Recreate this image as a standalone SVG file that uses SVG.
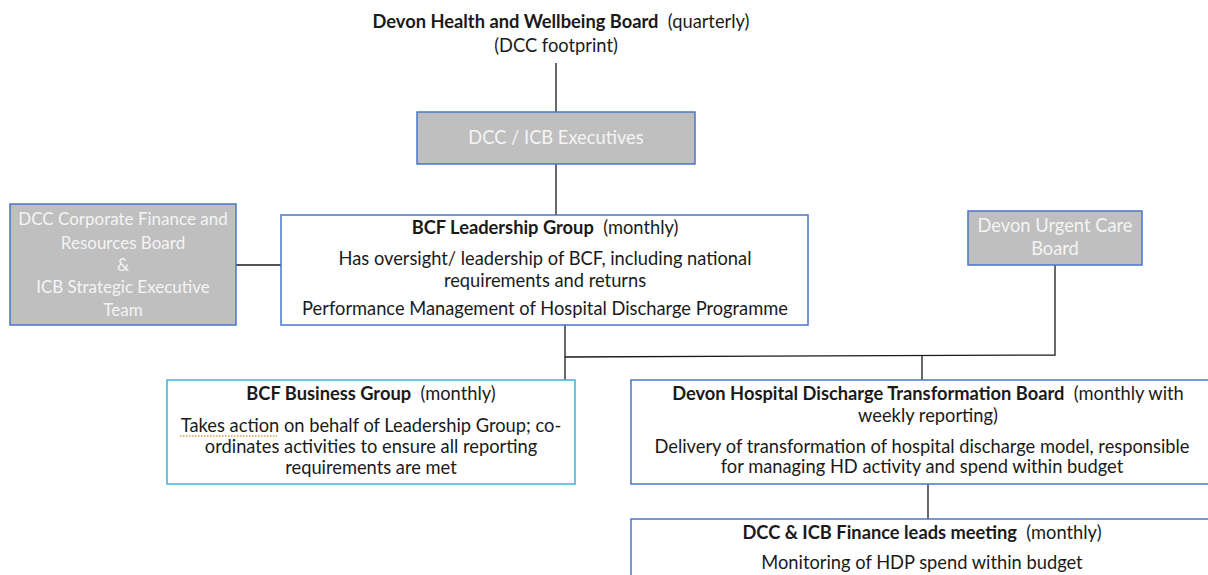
<svg xmlns="http://www.w3.org/2000/svg" width="1208" height="575" viewBox="0 0 1208 575">
<style>
text{font-family:Lato,"Liberation Sans",sans-serif;font-size:18.3px;fill:#1a1a1a;text-anchor:middle;white-space:pre}
.b{font-weight:bold}
.w{fill:#f4f4f4}
.s{font-size:17px}
.gray{fill:#bfbfbf;stroke:#4a76c8;stroke-width:1.5}
.wb{fill:#fff;stroke:#4a76c8;stroke-width:1.5}
.cy{fill:#fff;stroke:#3db3d6;stroke-width:1.5}
.c{stroke:#1a1a1a;stroke-width:1.3;fill:none}
</style>
<rect width="1208" height="575" fill="#fff"/>
<g id="connectors">
<line class="c" x1="556" y1="63" x2="556" y2="112"/>
<line class="c" x1="556" y1="164" x2="556" y2="215"/>
<line class="c" x1="236" y1="265" x2="281" y2="265"/>
<polyline class="c" points="1055,265 1055,355 565,357"/>
<line class="c" x1="565" y1="325" x2="565" y2="380"/>
<line class="c" x1="922" y1="356" x2="922" y2="380"/>
<line class="c" x1="928" y1="484" x2="928" y2="519"/>
</g>
<g id="hwb">
<text x="561" y="28" xml:space="preserve"><tspan class="b">Devon Health and Wellbeing Board</tspan><tspan>  (quarterly)</tspan></text>
<text x="556" y="52">(DCC footprint)</text>
</g>
<g id="exec">
<rect class="gray" x="417" y="112" width="278" height="52"/>
<text class="w" x="556" y="144">DCC / ICB Executives</text>
</g>
<g id="corp">
<rect class="gray" x="10" y="204" width="226" height="121"/>
<text class="w s" x="123" y="225">DCC Corporate Finance and</text>
<text class="w s" x="123" y="249">Resources Board</text>
<text class="w s" x="123" y="271">&amp;</text>
<text class="w s" x="123" y="293">ICB Strategic Executive</text>
<text class="w s" x="123" y="316">Team</text>
</g>
<g id="leadership">
<rect class="wb" x="281" y="215" width="527" height="110"/>
<text x="545" y="234" xml:space="preserve"><tspan class="b">BCF Leadership Group</tspan><tspan>  (monthly)</tspan></text>
<text x="545" y="265">Has oversight/ leadership of BCF, including national</text>
<text x="545" y="287">requirements and returns</text>
<text x="545" y="315">Performance Management of Hospital Discharge Programme</text>
</g>
<g id="urgent">
<rect class="gray" x="968" y="211" width="174" height="54"/>
<text class="w" x="1055" y="232">Devon Urgent Care</text>
<text class="w" x="1055" y="255">Board</text>
</g>
<g id="business">
<rect class="cy" x="167" y="380" width="408" height="104"/>
<text x="371" y="400" xml:space="preserve"><tspan class="b">BCF Business Group</tspan><tspan>  (monthly)</tspan></text>
<line x1="180" y1="436" x2="277" y2="436" stroke="#d4a040" stroke-width="1.5" stroke-dasharray="1.5,1.5"/>
<text x="371" y="432">Takes action on behalf of Leadership Group; co-</text>
<text x="371" y="453">ordinates activities to ensure all reporting</text>
<text x="371" y="474">requirements are met</text>
</g>
<g id="discharge">
<rect class="wb" x="631" y="380" width="590" height="104"/>
<text x="928" y="400" xml:space="preserve"><tspan class="b">Devon Hospital Discharge Transformation Board</tspan><tspan>  (monthly with</tspan></text>
<text x="928" y="422">weekly reporting)</text>
<text x="922" y="453">Delivery of transformation of hospital discharge model, responsible</text>
<text x="922" y="473">for managing HD activity and spend within budget</text>
</g>
<g id="finance">
<rect class="wb" x="631" y="519" width="590" height="70"/>
<text x="922" y="539" xml:space="preserve"><tspan class="b">DCC &amp; ICB Finance leads meeting</tspan><tspan>  (monthly)</tspan></text>
<text x="922" y="569">Monitoring of HDP spend within budget</text>
</g>
</svg>
